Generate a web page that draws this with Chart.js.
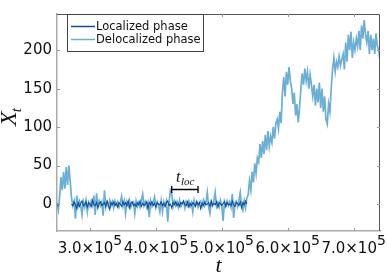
<!DOCTYPE html>
<html>
<head>
<meta charset="utf-8">
<script src="https://cdn.jsdelivr.net/npm/chart.js@4"></script>
<style>
  html, body { margin: 0; padding: 0; background: #fff; }
  #chart { display: block; }
</style>
</head>
<body>
<canvas id="chart" width="387" height="276"></canvas>
<script>
// sampled time series, one value every tStep starting at tStart
const tStart = 250000;
const tStep = 2000;

const delocalized = [
  0, -8, 10, 35, 18, 42, 20, 48, 25, 50,
  30, 8, -2, 4, -19, 11, -3, 4, -2, -14,
  3, -4, 5, -10, 2, -3, 4, -2, 11, -14,
  14, -3, 4, -2, 3, -15, 18, -4, 2, -3,
  5, -2, 3, -5, 4, -1, 3, -4, 2, 10,
  -3, 4, -12, 3, -2, 5, -4, 2, 3, -12,
  4, -3, 2, -4, 5, 13, -2, 3, -4, 2,
  -17, 4, -3, 2, 9, -4, 3, -2, -10, 4,
  -10, 3, -2, 4, -23, 2, 18, 15, -3, 4,
  -2, 3, -4, 5, -3, 2, 4, -5, 3, -2,
  4, -3, 2, -10, 5, -2, 3, -4, 2, 4,
  -3, 5, -2, 3, 15, -4, -12, 3, -2, 4,
  15, -3, 2, -4, 5, -2, -22, 3, -3, 4,
  -2, 3, -4, 13, -18, 2, 4, -3, 5, 15,
  -2, -8, 4, -5, 8, 12, 30, 18, 42, 28,
  53, 40, 60, 55, 78, 60, 82, 65, 90, 70,
  95, 75, 88, 80, 100, 85, 105, 110, 98, 120,
  105, 145, 165, 140, 172, 155, 178, 160, 150, 130,
  145, 115, 130, 106, 125, 150, 170, 155, 176, 160,
  172, 150, 168, 155, 140, 155, 128, 150, 132, 158,
  125, 150, 120, 140, 110, 104, 130, 120, 150, 175,
  190, 172, 185, 178, 192, 180, 188, 195, 175, 210,
  185, 220, 200, 224, 190, 210, 200, 215, 205, 225,
  200, 232, 215, 239, 220, 210, 225, 195, 220, 200,
  215, 195, 222, 205, 200, 186
];

// localized phase: a short piece at the very start, then the long flat stretch
const localizedHead = [1, -3];
const localizedFrom = 272000;
const localized = [
  0, -2, 3, -1, -6, 2, -3, 1, 4, -2,
  -1, 3, -4, 2, 0, -3, 5, -1, -2, 2,
  -5, 1, 3, -2, 0, 2, -3, 4, -1, -7,
  2, -1, 3, -2, 1, -4, 2, 0, -3, 3,
  -1, 2, -2, 4, -5, 1, 3, -2, 0, -3,
  2, -1, 4, -3, 1, -2, 0, 3, -6, 2,
  -1, 3, -2, 1, -4, 2, 0, -1, 3, -2,
  1, -3, 2, 4, -2, 0, -5, 2, -1, 3,
  -2, 1, -3, 2, 0, 4, -1, -2, 3, -4,
  1, -2, 2, 0, -3, 3, -1, 2, -6, 1,
  -2, 3, -1, 0, 2, -3, 4, -2, 1, -1,
  3, -4, 2, 0, -2, 1, 3, -3, 2, -1,
  0, -2, 4, -1, -3, 2, 1, -2, 3, -5,
  2, -1, 4, 0
];

const xTicks = [300000, 400000, 500000, 600000, 700000];
const yTicks = [0, 50, 100, 150, 200];
const seriesNames = ['Localized phase', 'Delocalized phase'];

// t_loc marker
const tlocStart = 424000;
const tlocEnd = 464000;
const tlocLevel = 20;

const darkBlue = '#0b4f9e';
const lightBlue = '#6baed6';

const delocPoints = delocalized.map((v, i) => ({ x: tStart + i * tStep, y: v }));
const locPoints = localizedHead.map((v, i) => ({ x: tStart + i * tStep, y: v }));
locPoints.push({ x: tStart + localizedHead.length * tStep, y: null });
localized.forEach((v, i) => locPoints.push({ x: localizedFrom + i * tStep, y: v }));

const tickFont = '15px "DejaVu Sans"';

const decorations = {
  id: 'decorations',
  afterDraw(chart) {
    const ctx = chart.ctx;
    const a = chart.chartArea;
    const xs = chart.scales.x, ys = chart.scales.y;
    ctx.save();

    // top and right frame
    ctx.strokeStyle = '#555';
    ctx.lineWidth = 1;
    ctx.beginPath();
    ctx.moveTo(a.left, a.top + 0.5);
    ctx.lineTo(a.right - 0.5, a.top + 0.5);
    ctx.lineTo(a.right - 0.5, a.bottom);
    ctx.stroke();

    // inward tick marks
    ctx.strokeStyle = '#999';
    ctx.beginPath();
    xTicks.forEach(v => {
      const px = Math.round(xs.getPixelForValue(v)) + 0.5;
      ctx.moveTo(px, a.bottom); ctx.lineTo(px, a.bottom - 3);
      ctx.moveTo(px, a.top); ctx.lineTo(px, a.top + 3);
    });
    yTicks.forEach(v => {
      const py = Math.round(ys.getPixelForValue(v)) + 0.5;
      ctx.moveTo(a.left, py); ctx.lineTo(a.left + 3, py);
      ctx.moveTo(a.right, py); ctx.lineTo(a.right - 3, py);
    });
    ctx.stroke();

    // x tick labels with exponent
    ctx.fillStyle = '#111';
    ctx.textBaseline = 'alphabetic';
    xTicks.forEach(v => {
      const main = (v / 1e5).toFixed(1) + '\u00d710';
      ctx.font = tickFont;
      const w1 = ctx.measureText(main).width;
      ctx.font = '14px "DejaVu Sans"';
      const w2 = ctx.measureText('5').width;
      const px = xs.getPixelForValue(v);
      const left = px - (w1 + w2) / 2;
      ctx.font = tickFont;
      ctx.textAlign = 'left';
      ctx.fillText(main, left, 253);
      ctx.font = '14px "DejaVu Sans"';
      ctx.fillText('5', left + w1, 245);
    });

    // axis titles
    ctx.font = 'italic 22px "Liberation Serif"';
    ctx.textAlign = 'center';
    ctx.fillText('t', (a.left + a.right) / 2, 272);

    ctx.save();
    ctx.translate(16, 126);
    ctx.rotate(-Math.PI / 2);
    ctx.textAlign = 'left';
    ctx.font = 'italic 24px "Liberation Serif"';
    ctx.fillText('X', 0, 0);
    const wx = ctx.measureText('X').width;
    ctx.font = 'italic 15px "Liberation Serif"';
    ctx.fillText('t', wx - 1, 5);
    ctx.restore();

    // t_loc bracket
    const x1 = xs.getPixelForValue(tlocStart);
    const x2 = xs.getPixelForValue(tlocEnd);
    const yb = Math.round(ys.getPixelForValue(tlocLevel)) + 0.5;
    ctx.strokeStyle = '#000';
    ctx.lineWidth = 1.3;
    ctx.beginPath();
    ctx.moveTo(x1, yb); ctx.lineTo(x2, yb);
    ctx.moveTo(x1, yb - 3.5); ctx.lineTo(x1, yb + 3.5);
    ctx.moveTo(x2, yb - 3.5); ctx.lineTo(x2, yb + 3.5);
    ctx.stroke();
    ctx.textAlign = 'left';
    ctx.font = 'italic 16px "Liberation Serif"';
    const tw = ctx.measureText('t').width;
    ctx.font = 'italic 11px "Liberation Serif"';
    const lw = ctx.measureText('loc').width;
    const cx = (x1 + x2) / 2 - (tw + lw) / 2;
    ctx.font = 'italic 16px "Liberation Serif"';
    ctx.fillText('t', cx, yb - 8);
    ctx.font = 'italic 11px "Liberation Serif"';
    ctx.fillText('loc', cx + tw + 0.5, yb - 5);

    // legend box
    const lx = 67, ly = 14, lwid = 136, lh = 37;
    ctx.fillStyle = '#fff';
    ctx.fillRect(lx, ly, lwid, lh);
    ctx.strokeStyle = '#444';
    ctx.lineWidth = 1;
    ctx.strokeRect(lx + 0.5, ly + 0.5, lwid, lh);
    const colors = [darkBlue, lightBlue];
    seriesNames.forEach((name, i) => {
      const y = 26 + i * 13;
      ctx.strokeStyle = colors[i];
      ctx.lineWidth = 1.5;
      ctx.beginPath();
      ctx.moveTo(71, y + 0.5); ctx.lineTo(95, y + 0.5);
      ctx.stroke();
      ctx.fillStyle = '#111';
      ctx.font = '11.5px "DejaVu Sans"';
      ctx.textBaseline = 'middle';
      ctx.fillText(name, 96, y + 1);
    });
    ctx.restore();
  }
};

new Chart(document.getElementById('chart'), {
  type: 'line',
  data: {
    datasets: [
      {
        label: seriesNames[0],
        data: locPoints,
        borderColor: darkBlue,
        borderWidth: 1.1,
        pointRadius: 0,
        tension: 0,
        spanGaps: false
      },
      {
        label: seriesNames[1],
        data: delocPoints,
        borderColor: lightBlue,
        borderWidth: 1.7,
        pointRadius: 0,
        tension: 0
      }
    ]
  },
  options: {
    responsive: false,
    animation: false,
    layout: { padding: { top: 6, right: 7, left: 0, bottom: 0 } },
    plugins: {
      legend: { display: false },
      tooltip: { enabled: false }
    },
    scales: {
      x: {
        type: 'linear',
        min: 250000,
        max: 740000,
        grid: { display: false, drawTicks: false },
        border: { display: true, color: '#aaa', width: 1.5 },
        ticks: { display: false },
        afterBuildTicks: s => { s.ticks = xTicks.map(v => ({ value: v })); },
        afterFit: s => { s.height = 45; }
      },
      y: {
        min: -35,
        max: 247,
        grid: { display: false, drawTicks: false },
        border: { display: true, color: '#aaa', width: 1.5 },
        ticks: {
          padding: 5,
          color: '#111',
          font: { family: 'DejaVu Sans', size: 15 }
        },
        afterBuildTicks: s => { s.ticks = yTicks.map(v => ({ value: v })); },
        afterFit: s => { s.width = 57; }
      }
    }
  },
  plugins: [decorations]
});
</script>
</body>
</html>
